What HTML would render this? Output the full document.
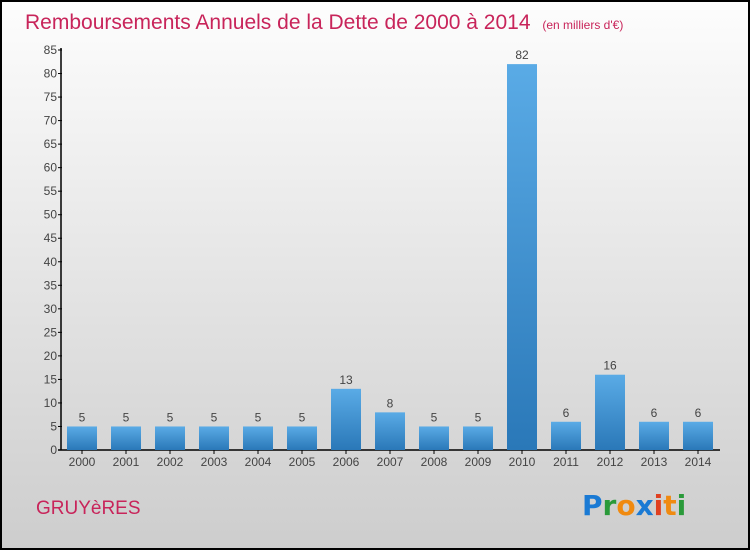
<!DOCTYPE html>
<html><head><meta charset="utf-8"><style>
body{margin:0;width:750px;height:550px;overflow:hidden;font-family:"Liberation Sans",sans-serif}
</style></head><body>
<svg width="750" height="550" xmlns="http://www.w3.org/2000/svg">
<defs>
<linearGradient id="bg" x1="0" y1="0" x2="0" y2="1"><stop offset="0" stop-color="#fdfdfd"/><stop offset="1" stop-color="#cdcdcd"/></linearGradient>
<linearGradient id="bar" x1="0" y1="0" x2="0" y2="1"><stop offset="0" stop-color="#5aabe6"/><stop offset="1" stop-color="#2a78b8"/></linearGradient>
</defs>
<rect x="1" y="1" width="748" height="548" fill="url(#bg)" stroke="#000" stroke-width="2"/>
<text x="25" y="29" font-size="21" fill="#c8245a">Remboursements Annuels de la Dette de 2000 à 2014 <tspan font-size="12" dx="6">(en milliers d'€)</tspan></text>
<g id="axes"></g>
<g id="bars"></g>
<text x="36" y="514" font-size="19" fill="#c8245a">GRUYèRES</text>
<g font-size="28" font-weight="bold" font-family="'DejaVu Sans',sans-serif">
<text x="582" y="515"><tspan fill="#1a7ad4">P</tspan><tspan fill="#2a9a3a">r</tspan><tspan fill="#f08a10">o</tspan><tspan fill="#1a7ad4">x</tspan><tspan fill="#e04020">i</tspan><tspan fill="#f08a10">t</tspan><tspan fill="#2a9a3a">i</tspan></text>
</g>
</svg>
<script>
const categories=["2000","2001","2002","2003","2004","2005","2006","2007","2008","2009","2010","2011","2012","2013","2014"];
const values=[5,5,5,5,5,5,13,8,5,5,82,6,16,6,6];
const yTicks=[0,5,10,15,20,25,30,35,40,45,50,55,60,65,70,75,80,85];
const NS="http://www.w3.org/2000/svg";
const y0=450,yTop=50,yMax=85,x0=82,step=44,bw=30;
const y=v=>y0-(v/yMax)*(y0-yTop);
const x=i=>x0+i*step;
function mk(t,a,p){const e=document.createElementNS(NS,t);for(const k in a)e.setAttribute(k,a[k]);p.appendChild(e);return e;}
const ax=document.getElementById('axes'),bg=document.getElementById('bars');
const yl=mk('line',{x1:61,y1:y0,x2:61,y2:yTop-2,stroke:'#000','stroke-width':1.5},ax);


const xl=mk('line',{x1:58,y1:y0,x2:720,y2:y0,stroke:'#000','stroke-width':1.5},ax);


yTicks.forEach(t=>{
 mk('line',{x1:58,y1:y(t),x2:62,y2:y(t),stroke:'#000'},ax);
 const tx=mk('text',{x:57,y:y(t)+4,'text-anchor':'end','font-size':12,fill:'#444'},ax);
 tx.textContent=t;
 
 
});
categories.forEach((c,i)=>{
 const v=values[i];
 const r=mk('rect',{x:x(i)-bw/2,y:y(v),width:bw,height:y0-y(v),fill:'url(#bar)'},bg);
 
 
 const l=mk('text',{x:x(i),y:y(v)-5,'text-anchor':'middle','font-size':12,fill:'#444'},bg);
 l.textContent=v;
 
 
 mk('line',{x1:x(i),y1:y0,x2:x(i),y2:y0+4,stroke:'#000'},ax);
 const cl=mk('text',{x:x(i),y:466,'text-anchor':'middle','font-size':12,fill:'#444'},ax);
 cl.textContent=c;
 
 
});
</script>
</body></html>
